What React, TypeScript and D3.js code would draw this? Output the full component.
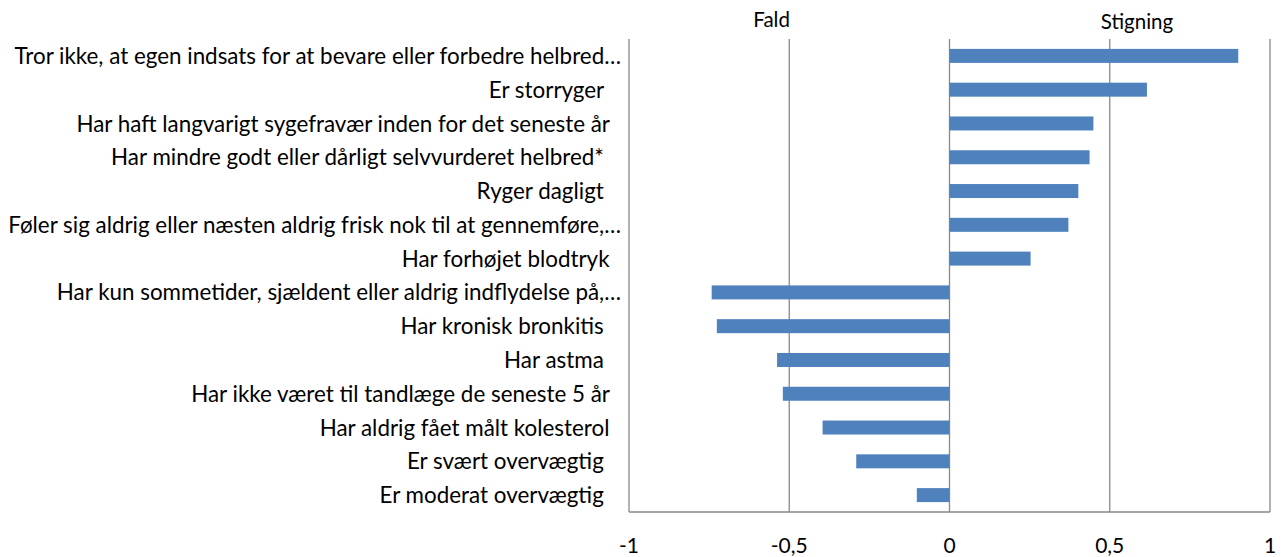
import React from "react";
import * as d3 from "d3";

// Kategorier (øverst til nederst) og ændring
const categories = [
  "Tror ikke, at egen indsats for at bevare eller forbedre helbred…",
  "Er storryger   ",
  "Har haft langvarigt sygefravær inden for det seneste år  ",
  "Har mindre godt eller dårligt selvvurderet helbred*   ",
  "Ryger dagligt   ",
  "Føler sig aldrig eller næsten aldrig frisk nok til at gennemføre,…",
  "Har forhøjet blodtryk  ",
  "Har kun sommetider, sjældent eller aldrig indflydelse på,…",
  "Har kronisk bronkitis   ",
  "Har astma   ",
  "Har ikke været til tandlæge de seneste 5 år  ",
  "Har aldrig fået målt kolesterol  ",
  "Er svært overvægtig   ",
  "Er moderat overvægtig   ",
];
const values = [0.901, 0.616, 0.449, 0.437, 0.402, 0.371, 0.253, -0.742, -0.726, -0.538, -0.52, -0.396, -0.291, -0.102];
const xTicks = [-1, -0.5, 0, 0.5, 1];
const annotations = ["Fald", "Stigning"];

const W = 1284;
const H = 557;
const margin = { top: 39, right: 14, bottom: 45, left: 629 };
const FONT = "Lato, 'Open Sans', sans-serif";

export default function App() {
  const x = d3.scaleLinear().domain([-1, 1]).range([margin.left, W - margin.right]);
  const y = d3
    .scaleBand<string>()
    .domain(categories)
    .range([margin.top, H - margin.bottom])
    .paddingInner(0.586)
    .paddingOuter(0.293);

  const fmt = (v: number) => String(v).replace(".", ",");
  const bottom = H - margin.bottom;

  return (
    <svg
      width={W}
      height={H}
      style={{ position: "absolute", left: 0, top: 0, background: "#fff" }}
      fontFamily={FONT}
    >
      {/* gitterlinjer */}
      {xTicks.map((t) => (
        <line key={t} x1={x(t)} x2={x(t)} y1={margin.top} y2={bottom} stroke="#898989" strokeWidth={1.3} />
      ))}
      <line x1={x(-1)} x2={x(1)} y1={bottom} y2={bottom} stroke="#898989" strokeWidth={1.3} />

      {/* søjler */}
      {categories.map((c, i) => {
        const v = values[i];
        return (
          <rect
            key={c}
            x={Math.min(x(0), x(v))}
            y={y(c)}
            width={Math.abs(x(v) - x(0))}
            height={y.bandwidth()}
            fill="#4f81bd"
          />
        );
      })}

      {/* kategorietiketter */}
      {categories.map((c) => (
        <text
          key={c}
          x={margin.left - 8}
          y={(y(c) ?? 0) + y.bandwidth() / 2}
          dy="0.36em"
          textAnchor="end"
          fontSize={22.4}
          fill="#000"
          style={{ whiteSpace: "pre" }}
        >
          {c}
        </text>
      ))}

      {/* x-akse etiketter */}
      {xTicks.map((t) => (
        <text key={t} x={x(t)} y={545} dy="0.36em" textAnchor="middle" fontSize={21} fill="#000">
          {fmt(t)}
        </text>
      ))}

      {/* Fald / Stigning */}
      <text x={x(-0.555)} y={20} dy="0.36em" textAnchor="middle" fontSize={20.5} fill="#000">
        {annotations[0]}
      </text>
      <text x={x(0.585)} y={22} dy="0.36em" textAnchor="middle" fontSize={20.5} fill="#000">
        {annotations[1]}
      </text>
    </svg>
  );
}
